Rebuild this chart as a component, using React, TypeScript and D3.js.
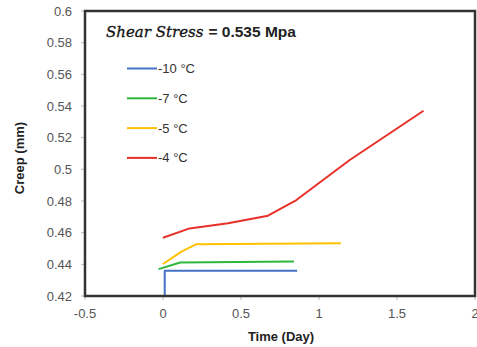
import React from "react";
import * as d3 from "d3";

// Creep vs. time at shear stress 0.535 MPa, one series per temperature
const seriesNames = ["-10 °C", "-7 °C", "-5 °C", "-4 °C"];
const seriesColors = ["#4472C4", "#2DB83D", "#FFC000", "#E8302A"];

const timeM10 = [0.011, 0.011, 0.86];
const creepM10 = [0.42, 0.436, 0.436];

const timeM7 = [-0.028, 0.11, 0.84];
const creepM7 = [0.437, 0.4412, 0.4418];

const timeM5 = [0.0, 0.118, 0.214, 1.14];
const creepM5 = [0.4402, 0.448, 0.4527, 0.4533];

const timeM4 = [0.0, 0.17, 0.417, 0.673, 0.855, 1.197, 1.67];
const creepM4 = [0.4568, 0.4627, 0.4659, 0.4707, 0.4806, 0.5059, 0.537];

const xTicks = [-0.5, 0, 0.5, 1, 1.5, 2];
const yTicks = [0.42, 0.44, 0.46, 0.48, 0.5, 0.52, 0.54, 0.56, 0.58, 0.6];

const W = 477;
const H = 347;
const left = 85;
const right = 475;
const top = 11;
const bottom = 296;

export default function App() {
  const x = d3.scaleLinear().domain([-0.5, 2]).range([left, right]);
  const y = d3.scaleLinear().domain([0.42, 0.6]).range([bottom, top]);

  const series = [
    { t: timeM10, c: creepM10 },
    { t: timeM7, c: creepM7 },
    { t: timeM5, c: creepM5 },
    { t: timeM4, c: creepM4 },
  ];

  const line = d3
    .line<[number, number]>()
    .x((d) => x(d[0]))
    .y((d) => y(d[1]));

  const font = "'Liberation Sans', Arial, sans-serif";

  return (
    <svg
      width={W}
      height={H}
      style={{ position: "absolute", left: 0, top: 0, background: "#fff" }}
      fontFamily={font}
    >
      {/* y ticks and labels */}
      {yTicks.map((v) => (
        <g key={"y" + v}>
          <line x1={left - 4} x2={left} y1={y(v)} y2={y(v)} stroke="#bbb" strokeWidth={1} />
          <text
            x={72}
            y={y(v)}
            dy="0.35em"
            textAnchor="end"
            fontSize={13}
            fill="#555"
          >
            {String(v)}
          </text>
        </g>
      ))}
      {/* x ticks and labels */}
      {xTicks.map((v) => (
        <g key={"x" + v}>
          <line x1={x(v)} x2={x(v)} y1={bottom} y2={bottom + 4} stroke="#bbb" strokeWidth={1} />
          <text x={x(v)} y={318} textAnchor="middle" fontSize={13} fill="#555">
            {String(v)}
          </text>
        </g>
      ))}

      {/* series */}
      {series.map((s, i) => (
        <path
          key={i}
          d={line(s.t.map((t, k) => [t, s.c[k]] as [number, number])) || ""}
          fill="none"
          stroke={seriesColors[i]}
          strokeWidth={2}
          strokeLinejoin="round"
        />
      ))}

      {/* plot frame */}
      <rect
        x={left}
        y={top}
        width={right - left}
        height={bottom - top}
        fill="none"
        stroke="#333"
        strokeWidth={2.5}
      />

      {/* heading */}
      <text x={106} y={37} fontSize={15}>
        <tspan fontFamily="'DejaVu Serif', 'Liberation Serif', serif" fontStyle="italic" fill="#111" stroke="#111" strokeWidth={0.3}>
          Shear Stress
        </tspan>
        <tspan fontFamily={font} fontWeight="bold" fontSize={15.5} fill="#222" dx={5}>
          = 0.535 Mpa
        </tspan>
      </text>

      {/* legend */}
      {seriesNames.map((name, i) => {
        const ly = 68.5 + i * 29.8;
        return (
          <g key={name}>
            <line x1={127} x2={157} y1={ly} y2={ly} stroke={seriesColors[i]} strokeWidth={2} />
            <text x={158} y={ly} dy="0.35em" fontSize={13} fill="#333">
              {name}
            </text>
          </g>
        );
      })}

      {/* axis titles */}
      <text x={281} y={341} textAnchor="middle" fontSize={13} fontWeight="bold" fill="#222">
        Time (Day)
      </text>
      <text
        transform={`translate(24,158) rotate(-90)`}
        textAnchor="middle"
        fontSize={13}
        fontWeight="bold"
        fill="#222"
      >
        Creep (mm)
      </text>
    </svg>
  );
}
